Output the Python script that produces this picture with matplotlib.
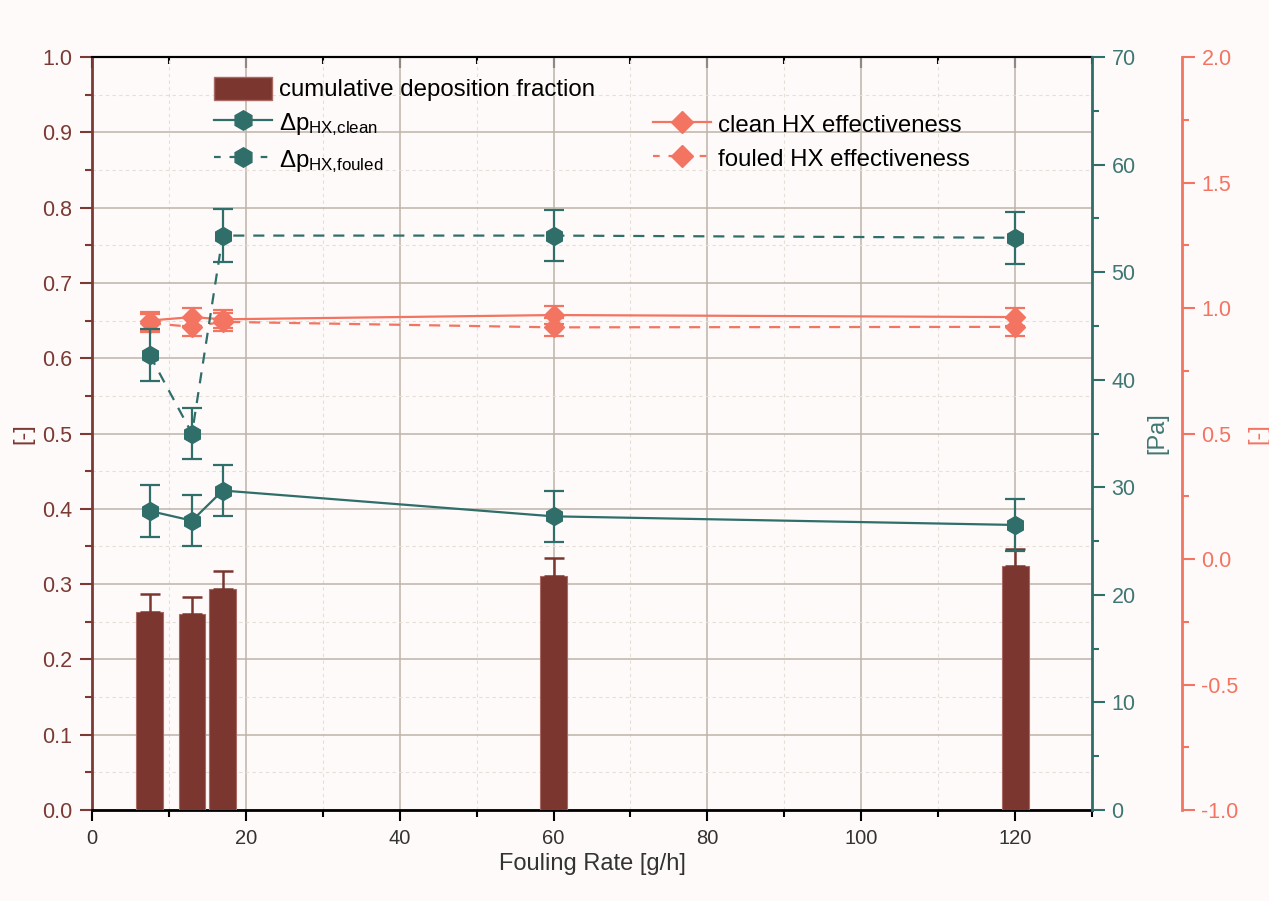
import matplotlib
matplotlib.use('Agg')
import matplotlib.pyplot as plt
from matplotlib.patches import Patch
from matplotlib.lines import Line2D
from matplotlib.ticker import MultipleLocator

plt.rcParams['font.family'] = ['Liberation Sans', 'DejaVu Sans']
plt.rcParams['mathtext.default'] = 'regular'

# fouling rate [g/h]
rate = [7.5, 13, 17, 60, 120]

# cumulative deposition fraction [-]
dep_frac = [0.263, 0.260, 0.294, 0.311, 0.324]
dep_err = [0.024, 0.023, 0.024, 0.024, 0.022]

# pressure drop over HX [Pa]
dp_clean = [27.8, 26.9, 29.7, 27.3, 26.5]
dp_clean_err = [2.4, 2.4, 2.4, 2.4, 2.4]
dp_fouled = [42.3, 35.0, 53.4, 53.4, 53.2]
dp_fouled_err = [2.4, 2.4, 2.5, 2.4, 2.4]

# HX effectiveness [-]
eff_clean = [0.950, 0.964, 0.955, 0.972, 0.964]
eff_clean_err = [0.036, 0.036, 0.036, 0.036, 0.036]
eff_fouled = [0.940, 0.925, 0.945, 0.923, 0.925]
eff_fouled_err = [0.036, 0.036, 0.036, 0.036, 0.036]

c_bar = '#7b372f'
c_left = '#7b3a33'
c_teal = '#2f6e69'
c_teal_txt = '#3f7773'
c_sal = '#f27461'
bg = '#fffafa'

fig = plt.figure(figsize=(12.69, 9.01), dpi=100, facecolor=bg)
ax = fig.add_axes([0.0725, 0.101, 0.788, 0.8357], facecolor=bg)
ax_s = ax.twinx()
ax_t = ax.twinx()

# bars on host axes
ax.bar(rate, dep_frac, width=3.5, color=c_bar, edgecolor='#a86a62', linewidth=0.8, zorder=3)
ax.errorbar(rate, dep_frac, yerr=[[0]*len(dep_err), dep_err], fmt='none', ecolor=c_bar,
            elinewidth=1.8, capsize=7, capthick=1.8, zorder=4)
ax.set_xlim(0, 130)
ax.set_ylim(0, 1.0)
ax.xaxis.set_major_locator(MultipleLocator(20))
ax.xaxis.set_minor_locator(MultipleLocator(10))
ax.yaxis.set_major_locator(MultipleLocator(0.1))
ax.yaxis.set_minor_locator(MultipleLocator(0.05))
ax.grid(which='major', color='#bdb4a9', linewidth=1.1, zorder=0)
ax.grid(which='minor', color='#e6dfd8', linewidth=0.8, linestyle=(0, (3, 3)), zorder=0)
ax.set_axisbelow(True)
ax.tick_params(axis='y', which='major', direction='out', length=9, width=1.5, colors=c_left,
               labelsize=15.5, pad=5)
ax.tick_params(axis='y', which='minor', direction='out', length=5, width=1.5, colors=c_left)
ax.tick_params(axis='x', which='major', direction='out', length=8, width=1.5, labelsize=14.5,
               labelcolor='#333333', pad=6)
ax.tick_params(axis='x', which='minor', direction='out', length=5, width=1.5)
ax.set_yticklabels([f'{v:.1f}' for v in ax.get_yticks()])
ax.spines['left'].set_color(c_left)
ax.spines['left'].set_linewidth(2)
ax.spines['bottom'].set_linewidth(2)
ax.spines['top'].set_linewidth(1.5)
ax.set_xlabel('Fouling Rate [g/h]', fontsize=17, color='#333333', labelpad=3)
ax.set_ylabel('[-]', fontsize=17, color=c_left, labelpad=6)

top = ax.secondary_xaxis('top')
top.xaxis.set_major_locator(MultipleLocator(20))
top.xaxis.set_minor_locator(MultipleLocator(10))
top.tick_params(which='major', direction='in', length=8, width=1.5, labeltop=False)
top.tick_params(which='minor', direction='in', length=5, width=1.5)
top.spines['top'].set_linewidth(1.5)

# effectiveness on offset right axis
ax_s.errorbar(rate, eff_fouled, yerr=eff_fouled_err, color=c_sal, linestyle=(0, (5, 4)),
              linewidth=1.6, marker='D', markersize=10, capsize=7, capthick=1.6, elinewidth=1.6)
ax_s.errorbar(rate, eff_clean, yerr=eff_clean_err, color=c_sal, linestyle='-',
              linewidth=1.6, marker='D', markersize=10, capsize=7, capthick=1.6, elinewidth=1.6)
ax_s.set_ylim(-1.0, 2.0)
ax_s.yaxis.set_major_locator(MultipleLocator(0.5))
ax_s.yaxis.set_minor_locator(MultipleLocator(0.25))
ax_s.spines['right'].set_position(('axes', 1.09))
ax_s.spines['right'].set_color(c_sal)
ax_s.spines['right'].set_linewidth(2)
for s in ['left', 'top', 'bottom']:
    ax_s.spines[s].set_visible(False)
ax_s.tick_params(axis='y', which='major', direction='out', length=9, width=1.5, colors=c_sal,
                 labelsize=15.5, pad=5)
ax_s.tick_params(axis='y', which='minor', direction='out', length=5, width=1.5, colors=c_sal)
ax_s.set_yticklabels([f'{v:.1f}' for v in ax_s.get_yticks()])
ax_s.set_ylabel('[-]', fontsize=17, color=c_sal, labelpad=6)

# pressure drop on right axis
ax_t.errorbar(rate, dp_fouled, yerr=dp_fouled_err, color=c_teal, linestyle=(0, (5, 4)),
              linewidth=1.6, marker='h', markersize=13, capsize=7, capthick=1.6, elinewidth=1.6)
ax_t.errorbar(rate, dp_clean, yerr=dp_clean_err, color=c_teal, linestyle='-',
              linewidth=1.6, marker='h', markersize=13, capsize=7, capthick=1.6, elinewidth=1.6)
ax_t.set_ylim(0, 70)
ax_t.yaxis.set_major_locator(MultipleLocator(10))
ax_t.yaxis.set_minor_locator(MultipleLocator(5))
ax_t.spines['right'].set_color(c_teal)
ax_t.spines['right'].set_linewidth(2)
for s in ['left', 'top', 'bottom']:
    ax_t.spines[s].set_visible(False)
ax_t.tick_params(axis='y', which='major', direction='out', length=9, width=1.5, colors=c_teal,
                 labelcolor=c_teal_txt, labelsize=15.5, pad=5)
ax_t.tick_params(axis='y', which='minor', direction='out', length=5, width=1.5, colors=c_teal)
ax_t.set_ylabel('[Pa]', fontsize=17, color=c_teal_txt, labelpad=8)

# legends
h1 = [Patch(facecolor=c_bar, edgecolor='#a86a62'),
      Line2D([], [], color=c_teal, lw=1.6, marker='h', markersize=14),
      Line2D([], [], color=c_teal, lw=1.6, ls=(0, (3, 4)), marker='h', markersize=14)]
l1 = ['cumulative deposition fraction', 'Δp$_{HX{,}clean}$', 'Δp$_{HX{,}fouled}$']
leg1 = ax_t.legend(h1, l1, loc='upper left', bbox_to_anchor=(0.122, 0.974), frameon=False,
                   fontsize=17.3, handlelength=2.4, handleheight=1.1, handletextpad=0.3,
                   labelspacing=0.38, borderpad=0, borderaxespad=0)
ax_t.add_artist(leg1)
h2 = [Line2D([], [], color=c_sal, lw=1.6, marker='D', markersize=11),
      Line2D([], [], color=c_sal, lw=1.6, ls=(0, (3, 4)), marker='D', markersize=11)]
l2 = ['clean HX effectiveness', 'fouled HX effectiveness']
ax_t.legend(h2, l2, loc='upper left', bbox_to_anchor=(0.561, 0.927), frameon=False,
            fontsize=17.3, handlelength=2.4, handleheight=1.1, handletextpad=0.3,
            labelspacing=0.38, borderpad=0, borderaxespad=0)

fig.savefig('out.png', dpi=100, facecolor=bg)
